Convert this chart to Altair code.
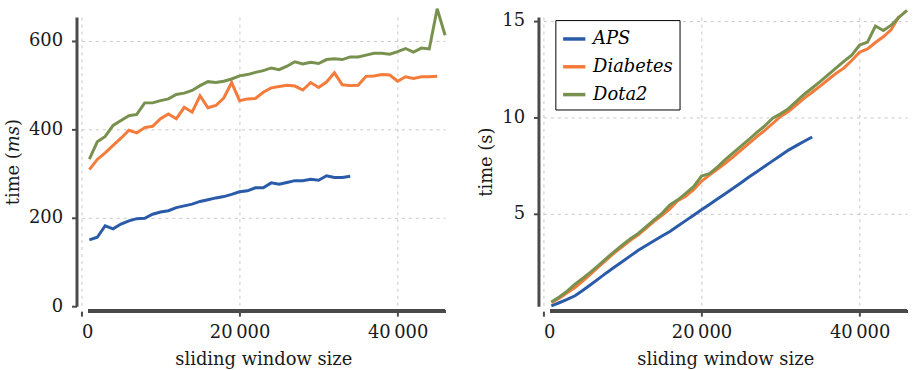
import altair as alt
import pandas as pd

# ---------------- data ----------------
window_sizes = list(range(1000, 47000, 1000))  # 1000 ... 46000

series_names = ["APS", "Diabetes", "Dota2"]
series_colors = ["#2a5ba8", "#f47b3a", "#78914f"]

# left panel: time in ms
aps_ms = [150, 156, 182, 175, 186, 193, 198, 199, 208, 213, 216, 223, 227, 231, 237,
          241, 245, 248, 253, 259, 261, 268, 268, 279, 276, 280, 284, 284, 287, 285,
          295, 291, 291, 294]
diabetes_ms = [309, 332, 347, 364, 380, 398, 392, 404, 407, 424, 435, 424, 450, 439, 476,
               449, 454, 471, 506, 465, 469, 470, 484, 494, 497, 500, 498, 489, 506, 495,
               507, 528, 501, 499, 500, 520, 521, 524, 523, 509, 519, 515, 519, 519, 520]
dota2_ms = [333, 372, 384, 409, 420, 431, 434, 460, 460, 465, 469, 479, 482, 488, 499,
            508, 506, 509, 514, 521, 524, 529, 533, 539, 535, 543, 553, 548, 552, 549,
            558, 560, 558, 564, 564, 568, 572, 572, 570, 576, 583, 575, 584, 582, 673,
            613]

# right panel: time in s
aps_s = [0.22, 0.38, 0.55, 0.74, 1.03, 1.33, 1.63, 1.94, 2.23, 2.52, 2.81, 3.10, 3.35,
         3.60, 3.84, 4.08, 4.36, 4.64, 4.92, 5.20, 5.48, 5.76, 6.04, 6.32, 6.61, 6.90,
         7.18, 7.46, 7.74, 8.02, 8.30, 8.53, 8.76, 8.98]
diabetes_s = [0.38, 0.62, 0.90, 1.17, 1.52, 1.88, 2.25, 2.62, 2.98, 3.30, 3.62, 3.90,
              4.25, 4.60, 4.92, 5.25, 5.68, 5.90, 6.25, 6.68, 7.00, 7.30, 7.62, 7.95,
              8.30, 8.65, 9.00, 9.32, 9.68, 10.05, 10.30, 10.65, 11.00, 11.30, 11.62,
              11.95, 12.28, 12.55, 12.95, 13.38, 13.55, 13.88, 14.18, 14.55, 15.25]
dota2_s = [0.42, 0.68, 0.98, 1.34, 1.66, 1.98, 2.33, 2.70, 3.05, 3.38, 3.70, 3.98, 4.33,
           4.68, 5.02, 5.45, 5.72, 6.05, 6.40, 6.95, 7.08, 7.42, 7.80, 8.15, 8.50, 8.85,
           9.22, 9.55, 9.95, 10.18, 10.45, 10.83, 11.20, 11.52, 11.85, 12.20, 12.55,
           12.90, 13.22, 13.75, 13.90, 14.74, 14.50, 14.78, 15.20, 15.55]

x_ticks = [0, 20000, 40000]
y_ticks_ms = [0, 200, 400, 600]
y_ticks_s = [5, 10, 15]
x_title = "sliding window size"


def to_long(series):
    rows = []
    for name, vals in zip(series_names, series):
        for x, v in zip(window_sizes, vals):
            rows.append({"size": x, "time": v, "dataset": name})
    return pd.DataFrame(rows)


df_ms = to_long([aps_ms, diabetes_ms, dota2_ms])
df_s = to_long([aps_s, diabetes_s, dota2_s])

FONT = "'DejaVu Serif', 'Liberation Serif', serif"
W, H = 366, 291
SPINE = "#4a4a4a"
x_label_expr = "replace(format(datum.value, ','), ',', '\u2009')"


def panel(df, ytitle, ydomain, yticks, legend):
    color = alt.Color(
        "dataset:N",
        scale=alt.Scale(domain=series_names, range=series_colors),
        legend=legend,
    )
    x = alt.X(
        "size:Q",
        title=x_title,
        scale=alt.Scale(domain=[0, 46000], nice=False, zero=False),
        axis=alt.Axis(
            values=x_ticks, labelExpr=x_label_expr,
            domain=False, offset=5, labelPadding=7, titlePadding=10,
        ),
    )
    y = alt.Y(
        "time:Q",
        title=ytitle,
        scale=alt.Scale(domain=ydomain, nice=False, zero=False),
        axis=alt.Axis(
            values=yticks, offset=5, labelPadding=9, titlePadding=6,
            gridOpacity={"condition": {"test": "datum.value === 0", "value": 0}, "value": 1},
        ),
    )
    lines = alt.Chart(df).mark_line(strokeWidth=3, clip=False).encode(
        x=x, y=y, color=color
    )
    spine = alt.Chart(df).mark_rule(color=SPINE, strokeWidth=3).encode(
        x=alt.X(datum=900, title=x_title),
        x2=alt.X2(datum=46000),
        y=alt.value(H + 5),
    )
    return alt.layer(lines, spine).properties(width=W, height=H)


left = panel(df_ms, "time (\U0001D45A\U0001D460)", [0, 654], y_ticks_ms, None)
right = panel(
    df_s, "time (s)", [0.2, 15.2], y_ticks_s,
    alt.Legend(
        title=None, orient="none", legendX=12, legendY=3,
        strokeColor="black", fillColor="white", padding=6, cornerRadius=0,
        symbolType="stroke", symbolStrokeWidth=3.5, symbolSize=500,
        labelFont=FONT, labelFontStyle="italic", labelFontSize=18,
        labelColor="black", labelOffset=6, rowPadding=6,
    ),
)

chart = (
    alt.hconcat(left, right, spacing=99, bounds="flush")
    .resolve_scale(color="independent")
    .properties(padding={"left": 4, "top": 1, "right": 1, "bottom": 2})
    .configure_view(stroke=None)
    .configure_axis(
        labelFont=FONT, labelFontSize=18, labelColor="#1a1a1a",
        titleFont=FONT, titleFontSize=18, titleFontWeight="normal", titleColor="#1a1a1a",
        tickColor=SPINE, tickWidth=2, tickSize=5,
        domainColor=SPINE, domainWidth=3,
        gridColor="#c8c8c8", gridDash=[3, 4], gridWidth=1,
    )
)

chart.save("out.html", embed_options={"renderer": "svg", "actions": False})
